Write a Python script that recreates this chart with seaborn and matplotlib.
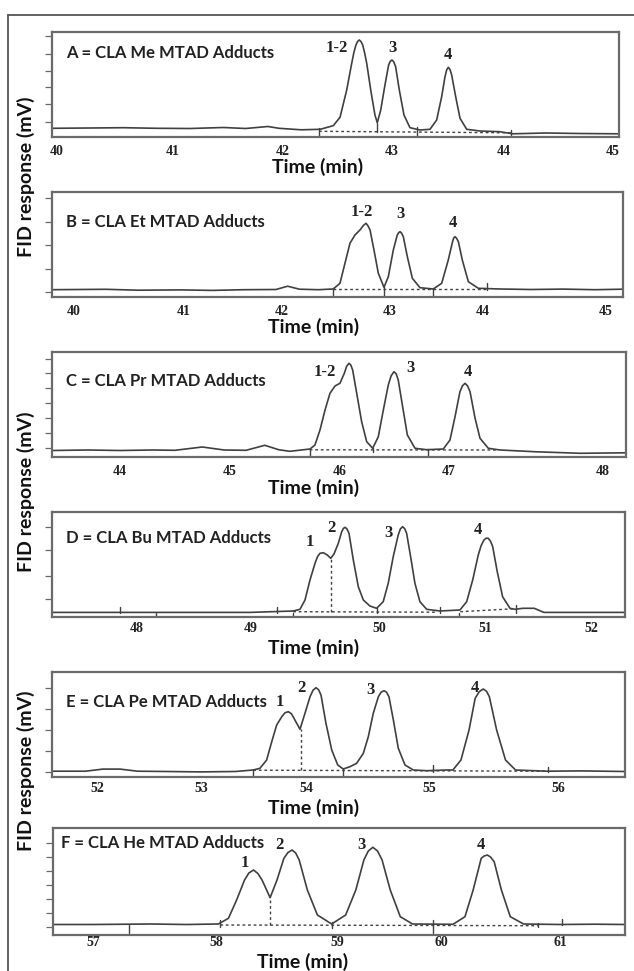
import numpy as np
import seaborn as sns
import matplotlib.pyplot as plt
from matplotlib.lines import Line2D

# --- data (time in min, response in arbitrary mV units) ---
a_time = [39.96, 40.3, 40.6, 40.9, 41.2, 41.5, 41.7, 41.9, 42.0, 42.2, 42.37, 42.488, 42.549, 42.609,
          42.654, 42.673, 42.692, 42.707, 42.722, 42.737, 42.753, 42.771, 42.789, 42.825, 42.863, 42.884,
          42.915, 42.953, 42.986, 43.001, 43.016, 43.032, 43.049, 43.082, 43.124, 43.178, 43.268, 43.358,
          43.418, 43.463, 43.493, 43.508, 43.523, 43.538, 43.553, 43.589, 43.628, 43.688, 43.808, 43.987,
          44.1, 44.4, 44.7, 45.05]
a_resp = [9, 9.3, 9.6, 9, 8.8, 9.8, 8.8, 10.8, 9, 7.5, 8, 11.6, 20, 47.3,
          74, 84.5, 92.3, 95.8, 97.3, 95.8, 92.3, 84, 74, 47.3, 22.3, 14.6,
          27.3, 52.3, 72.3, 76, 77.3, 75.5, 70.6, 47.3, 22.3, 9.6, 7.3, 8,
          17.3, 40.6, 60.6, 67.5, 70, 67.8, 62.3, 40.6, 19, 8, 6.3, 5.6,
          3.5, 4.3, 3.8, 3.5]
a_ticks = [40, 41.04, 42.03, 43.01, 44.02, 45.0]
a_ticklabels = ["40", "41", "42", "43", "44", "45"]
a_peaks = ["1-2", "3", "4"]
a_peak_t = [42.519, 43.022, 43.523]
a_peak_y = [89, 89, 82.3]

b_time = [39.79, 40.3, 40.6, 41.0, 41.3, 41.6, 41.9, 42.01, 42.12, 42.3, 42.439, 42.502, 42.549, 42.596,
          42.643, 42.69, 42.725, 42.747, 42.765, 42.785, 42.822, 42.863, 42.916, 42.957, 43.004, 43.041,
          43.054, 43.067, 43.082, 43.098, 43.136, 43.183, 43.255, 43.38, 43.459, 43.521, 43.559, 43.571,
          43.584, 43.6, 43.616, 43.653, 43.71, 43.804, 44.008, 44.3, 44.6, 44.9, 45.16]
b_resp = [7, 7.4, 6.5, 6.8, 6.3, 7, 7.2, 10.5, 7.5, 7, 7.7, 13.4, 33.4, 53.4,
          61.7, 66.7, 71.5, 73.4, 71, 66.7, 46.7, 23.4, 9.4, 20, 46.7, 61.7,
          64, 65, 63.5, 60, 40, 18.4, 9, 7.7, 13.4, 36.7, 54, 58.5,
          60, 58.3, 55, 36.7, 15, 8.4, 7.7, 7.2, 7.6, 7, 7.5]
b_ticks = [40, 41.03, 41.95, 42.97, 43.85, 45.0]
b_ticklabels = ["40", "41", "42", "43", "44", "45"]
b_peaks = ["1-2", "3", "4"]
b_peak_t = [42.706, 43.067, 43.568]
b_peak_y = [85, 82.7, 73.4]

c_time = [43.38, 43.7, 44.0, 44.3, 44.5, 44.75, 44.95, 45.15, 45.32, 45.45, 45.55, 45.733, 45.778, 45.824,
          45.87, 45.915, 45.961, 46.006, 46.046, 46.067, 46.088, 46.105, 46.122, 46.159, 46.204, 46.25,
          46.305, 46.356, 46.402, 46.447, 46.473, 46.499, 46.519, 46.538, 46.578, 46.621, 46.691, 46.797,
          46.949, 47.01, 47.056, 47.101, 47.124, 47.147, 47.17, 47.193, 47.239, 47.284, 47.36, 47.466,
          47.8, 48.2, 48.616]
c_resp = [6.8, 7.3, 6.8, 7.3, 7, 10.3, 7.3, 7, 12, 7.5, 6, 8.3, 12.3, 27.3,
          47.3, 64, 71.3, 74, 84, 91, 94, 92.3, 87.3, 64, 35.6, 15.6,
          9, 20.6, 47.3, 72.3, 81.5, 85.6, 83.5, 77.3, 50.6, 22.3, 9, 7.6,
          8.3, 17.3, 40.6, 65.6, 71.5, 74, 71.5, 65.6, 39, 19, 9, 7.3,
          5.5, 4, 4.5]
c_ticks = [44, 45.0, 46.0, 47.0, 48.4]
c_ticklabels = ["44", "45", "46", "47", "48"]
c_peaks = ["1-2", "3", "4"]
c_peak_t = [45.87, 46.651, 47.171]
c_peak_y = [85.6, 89, 85.6]

d_time = [47.26, 48.0, 48.5, 49.0, 49.381, 49.44, 49.484, 49.528, 49.572, 49.594, 49.616, 49.645, 49.68,
          49.71, 49.739, 49.777, 49.807, 49.822, 49.836, 49.853, 49.871, 49.909, 49.953, 49.997, 50.055,
          50.114, 50.172, 50.216, 50.26, 50.304, 50.323, 50.343, 50.361, 50.378, 50.413, 50.451, 50.495,
          50.554, 50.671, 50.847, 50.906, 50.959, 51.008, 51.033, 51.058, 51.077, 51.096, 51.116, 51.135,
          51.175, 51.222, 51.287, 51.331, 51.4, 51.5, 51.585, 51.9, 52.296]
d_resp = [4.3, 4.3, 4.3, 4.3, 5.7, 7.4, 16.7, 36.7, 53.4, 60, 63.4, 64, 61.7,
          58.4, 62.7, 73.4, 85, 88.3, 89.4, 87.8, 83.4, 56.7, 30, 16.7, 10.7,
          8.4, 15, 33.4, 60, 81.7, 87.8, 90, 88, 83.4, 60, 33.4, 15,
          7.4, 5.7, 6.7, 15, 36.7, 61.7, 71, 76.7, 78.5, 78.4, 75.5, 70,
          45, 20, 8.4, 7.4, 8.4, 8.4, 4.3, 4.3, 4.3]
d_ticks = [48, 49.01, 50.14, 51.07, 52.0]
d_ticklabels = ["48", "49", "50", "51", "52"]
d_peaks = ["1", "2", "3", "4"]
d_peak_t = [49.528, 49.718, 50.222, 51.008]
d_peak_y = [75, 88.4, 84, 86.7]

e_time = [51.61, 51.9, 52.05, 52.2, 52.35, 52.6, 52.9, 53.2, 53.354, 53.412, 53.47, 53.514, 53.557,
          53.601, 53.63, 53.658, 53.684, 53.707, 53.759, 53.802, 53.846, 53.872, 53.898, 53.92, 53.941,
          53.984, 54.034, 54.086, 54.134, 54.192, 54.25, 54.308, 54.351, 54.394, 54.438, 54.462, 54.487,
          54.509, 54.53, 54.568, 54.611, 54.669, 54.741, 54.857, 55.03, 55.084, 55.154, 55.224, 55.277,
          55.312, 55.347, 55.375, 55.4, 55.463, 55.54, 55.627, 55.9, 56.2, 56.573]
e_resp = [5.5, 5.5, 7.6, 7.6, 5.5, 5.2, 4.8, 5.2, 6.7, 8.4, 16.7, 35, 51.7,
          60, 64, 65, 63, 58.4, 47.4, 63.4, 80, 86.5, 89, 87, 81.7,
          53.4, 26.7, 11.7, 7.7, 10, 13.4, 23.4, 40, 63.4, 80, 84.5, 86,
          84.5, 80, 56.7, 28.4, 11.7, 6.7, 6, 6.7, 6.7, 16.7, 46.7, 78.4,
          85, 87.7, 85.5, 80, 46.7, 16.7, 6.7, 5.5, 5.8, 5.2]
e_ticks = [52, 52.9, 53.81, 54.88, 56.0]
e_ticklabels = ["52", "53", "54", "55", "56"]
e_peaks = ["1", "2", "3", "4"]
e_peak_t = [53.586, 53.768, 54.366, 55.277]
e_peak_y = [75, 88.4, 86.7, 88.4]

f_time = [56.654, 57.0, 57.5, 57.8, 58.074, 58.16, 58.23, 58.298, 58.335, 58.375, 58.412, 58.448, 58.517,
          58.576, 58.635, 58.67, 58.705, 58.736, 58.766, 58.836, 58.922, 59.044, 59.164, 59.251, 59.32,
          59.358, 59.397, 59.437, 59.476, 59.546, 59.632, 59.737, 60.083, 60.186, 60.256, 60.325, 60.35,
          60.377, 60.405, 60.436, 60.498, 60.574, 60.688, 61.0, 61.3, 61.554]
f_resp = [10.5, 10.5, 11, 10.5, 11, 16.7, 35, 55, 62, 65, 61.5, 55, 37.3,
          55, 76.7, 82.5, 85, 82, 75, 45, 20, 11, 20, 45, 75,
          84, 87.7, 84, 75, 45, 18.3, 11, 10.7, 18.3, 45, 76.7, 79,
          80, 78, 73.3, 45, 18.3, 11, 10.5, 10.8, 10.5]
f_ticks = [57, 58.06, 59.09, 59.98, 61.0]
f_ticklabels = ["57", "58", "59", "60", "61"]
f_peaks = ["1", "2", "3", "4"]
f_peak_t = [58.299, 58.6, 59.296, 60.325]
f_peak_y = [71.7, 90, 90, 90]

titles = ["A = CLA Me MTAD Adducts", "B = CLA Et MTAD Adducts", "C = CLA Pr MTAD Adducts",
          "D = CLA Bu MTAD Adducts", "E = CLA Pe MTAD Adducts", "F = CLA He MTAD Adducts"]

# integration baselines (t0, t1, y0, y1), drop lines (t, y0, y1), event marks (t, y0, y1)
a_base = [(42.36, 44.09, 6, 4.5)]
b_base = [(42.44, 43.88, 7.7, 7.7)]
c_base = [(45.73, 47.45, 7.5, 7.3)]
d_base = [(49.38, 50.65, 5, 4.5), (50.85, 51.33, 5, 8)]
e_base = [(53.354, 55.91, 6.5, 5.5)]
f_base = [(58.09, 60.81, 10, 9.3)]
d_drop = [(49.71, 5, 58.4)]
e_drop = [(53.768, 6.3, 47.4)]
f_drop = [(58.517, 10, 37.3)]
a_marks = [(42.36, 0, 9), (42.884, 5, 14.6), (43.244, 0, 10.6), (44.09, 2.3, 7.6)]
b_marks = [(42.44, 0, 8.4), (42.916, 0, 10), (43.374, 0, 8.4), (43.882, 6.7, 13.4)]
c_marks = [(45.733, 0, 8.3), (46.305, 5, 9), (46.812, 0, 8)]
d_marks = [(47.858, 4, 10), (48.171, 0, 4), (49.237, 4, 10), (49.38, 0, 4), (50.114, 4, 9),
           (50.671, 4, 10), (50.838, 0, 4), (51.336, 4, 12)]
e_marks = [(53.354, 0, 6.7), (54.134, 0, 7.7), (54.909, 5, 11.7), (55.91, 5, 10)]
f_marks = [(57.305, 2.3, 10), (58.091, 8.3, 15), (59.05, 7.5, 13), (59.916, 1.7, 15),
           (60.81, 8, 12), (61.017, 10, 15.6)]

a_yticks = [15.6, 33, 50, 66.6, 83.6, 101.3]
b_yticks = [4.4, 28, 51.7, 75, 98.4]
c_yticks = [9.6, 24, 39, 54, 69, 84, 98.3]
d_yticks = [17.4, 41, 66.7, 90]
e_yticks = [5, 25.7, 46.7, 67.4, 88.4]
f_yticks = [8.3, 21.7, 36, 50, 64.3, 78.3, 91.7]

a_xlim = (39.957, 45.055)
b_xlim = (39.791, 45.162)
c_xlim = (43.377, 48.616)
d_xlim = (47.257, 52.296)
e_xlim = (51.608, 56.573)
f_xlim = (56.654, 61.554)

panels = [
    (a_time, a_resp, a_ticks, a_ticklabels, a_peaks, a_peak_t, a_peak_y, a_base, [], a_marks, a_yticks, a_xlim),
    (b_time, b_resp, b_ticks, b_ticklabels, b_peaks, b_peak_t, b_peak_y, b_base, [], b_marks, b_yticks, b_xlim),
    (c_time, c_resp, c_ticks, c_ticklabels, c_peaks, c_peak_t, c_peak_y, c_base, [], c_marks, c_yticks, c_xlim),
    (d_time, d_resp, d_ticks, d_ticklabels, d_peaks, d_peak_t, d_peak_y, d_base, d_drop, d_marks, d_yticks, d_xlim),
    (e_time, e_resp, e_ticks, e_ticklabels, e_peaks, e_peak_t, e_peak_y, e_base, e_drop, e_marks, e_yticks, e_xlim),
    (f_time, f_resp, f_ticks, f_ticklabels, f_peaks, f_peak_t, f_peak_y, f_base, f_drop, f_marks, f_yticks, f_xlim),
]

# layout in pixels (left, right, top, bottom) of each plot box
W, H = 634, 971
boxes = [(51.8, 618.7, 32.3, 137.3), (51.8, 622.7, 192.3, 296.7), (51.8, 626, 352.3, 457.3),
         (51.8, 624.7, 512.3, 616.7), (51.8, 624.7, 672.3, 776.7), (52.6, 624.7, 827.7, 935)]
title_pos = [(0.025, 0.80), (0.025, 0.718), (0.025, 0.727), (0.025, 0.751), (0.025, 0.718), (0.014, 0.855)]
tick_pad = [5.5, 6.0, 5.5, 3.5, 4.0, 0.5]
xlabel_pos = [(318, 167), (314, 327), (314, 488), (314, 648), (314, 808), (303, 962)]

sns.set_style("white")
plt.rcParams['font.family'] = ['Lato', 'DejaVu Sans']

fig = plt.figure(figsize=(W / 100, H / 100), dpi=100)
line_col = "#404040"
frame_col = "#6a6a6a"

for i, (t, r, xt, xtl, pk, pkt, pky, base, drops, marks, yt, xl) in enumerate(panels):
    l, rgt, top, bot = boxes[i]
    ax = fig.add_axes([l / W, 1 - bot / H, (rgt - l) / W, (bot - top) / H])
    sns.lineplot(x=t, y=r, ax=ax, color=line_col, lw=1.2, estimator=None, sort=False)
    for t0, t1, y0, y1 in base:
        ax.plot([t0, t1], [y0, y1], color=line_col, lw=1.0, ls=(0, (2, 2)))
    for td, y0, y1 in drops:
        ax.plot([td, td], [y0, y1], color=line_col, lw=1.0, ls=(0, (2, 2)))
    for tm, y0, y1 in marks:
        ax.plot([tm, tm], [y0, y1], color=line_col, lw=1.0)
    for lab, px, py in zip(pk, pkt, pky):
        ax.text(px, py, lab, ha="center", va="center", fontsize=12, fontweight="bold",
                family="Liberation Serif", color="#222222")
    ax.text(title_pos[i][0], title_pos[i][1], titles[i], transform=ax.transAxes, ha="left",
            va="center", fontsize=12, fontweight="bold", color="#222222")
    ax.set_xlim(xl)
    ax.set_ylim(0, bot - top)
    ax.set_xticks(xt)
    ax.set_xticklabels(xtl, fontsize=10, fontweight="bold", family="Liberation Serif", color="#222222")
    ax.set_yticks(yt)
    ax.set_yticklabels([])
    ax.tick_params(axis="x", length=0, pad=tick_pad[i])
    ax.tick_params(axis="y", length=5, width=0.9, color=frame_col, direction="out", left=True)
    ax.set_xlabel("")
    ax.set_ylabel("")
    for s in ax.spines.values():
        s.set_color(frame_col)
        s.set_linewidth(1.6)
    fig.text(xlabel_pos[i][0] / W, 1 - xlabel_pos[i][1] / H, "Time (min)", ha="center", va="center",
             fontsize=14, fontweight="bold", color="#111111")

for yc in [177, 492, 771]:
    fig.text(26 / W, 1 - yc / H, "FID response (mV)", rotation=90, ha="center", va="center",
             fontsize=14, fontweight="bold", color="#111111")

# outer frame (left and top edges visible)
fig.add_artist(Line2D([8 / W, 8 / W], [0, 1 - 15 / H], transform=fig.transFigure, color="#555555", lw=1.3))
fig.add_artist(Line2D([8 / W, 1], [1 - 15 / H, 1 - 15 / H], transform=fig.transFigure, color="#555555", lw=1.3))

fig.savefig("out.png", dpi=100)
